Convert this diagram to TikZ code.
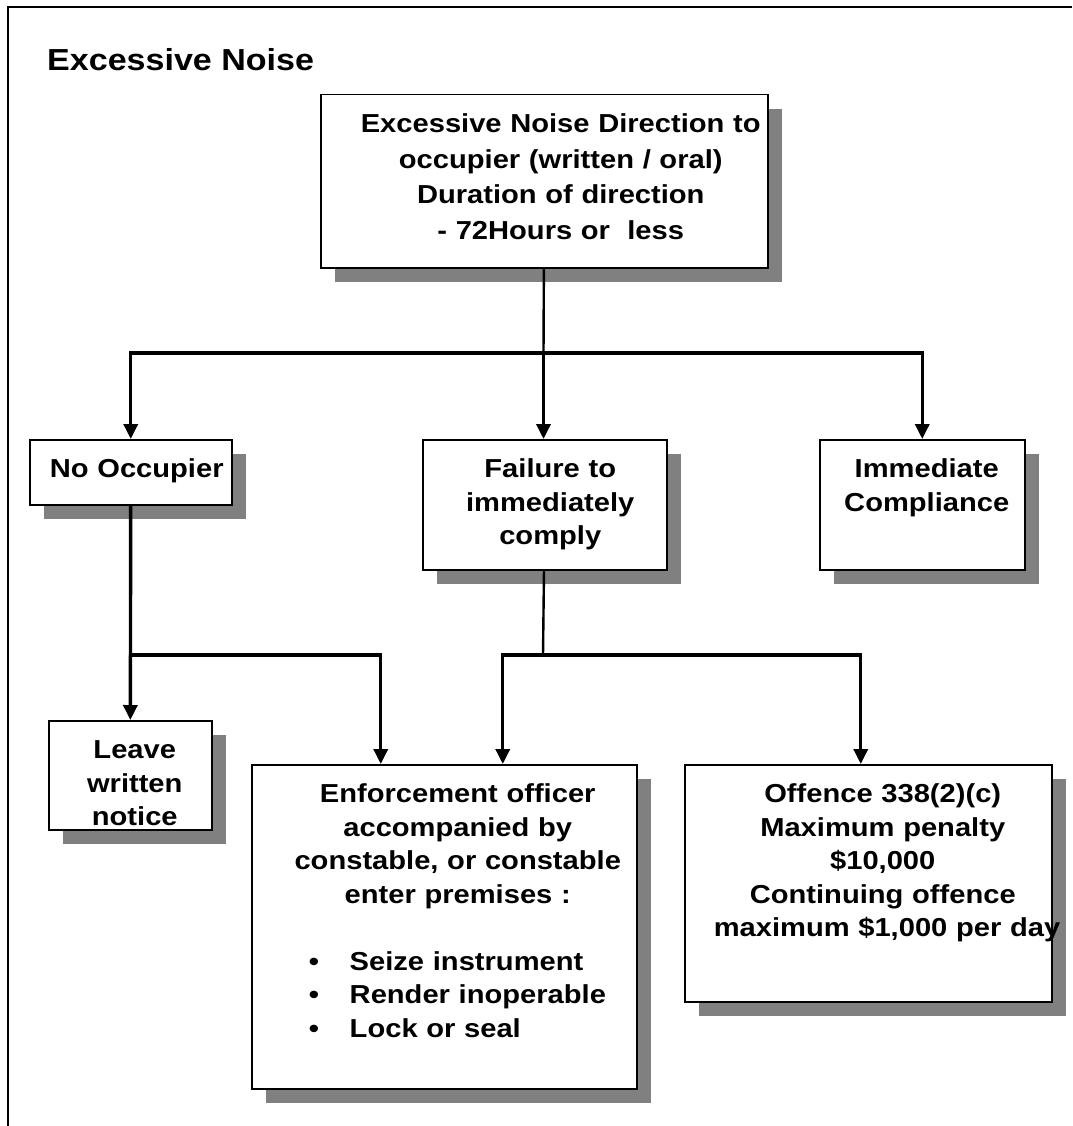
\documentclass[tikz,border=0pt]{standalone}
\usepackage{fontspec}
\setmainfont{Liberation Sans}[FakeStretch=1.12]
\definecolor{ShadowGray}{HTML}{808080}
\usetikzlibrary{arrows.meta,shadows}

\newcommand{\chartfont}{\fontsize{26}{33.5}\selectfont\bfseries}
\newcommand{\boxtext}[2]{\leftskip=#1 plus 1fil\rightskip=0pt plus 1fil\parfillskip=0pt\relax #2\par}

\begin{document}
\begin{tikzpicture}[x=1pt,y=-1pt,
    box/.style={draw,line width=1.5pt,fill=white,anchor=north west,inner sep=0pt,
      align=center,text height=38pt,font=\chartfont,
      drop shadow={shadow xshift=14pt,shadow yshift=-14pt,opacity=1,fill=ShadowGray}},
    stem/.style={line width=2.4pt},
    arr/.style={line width=3.4pt,-{Triangle[width=14pt,length=15pt]}}]
  \useasboundingbox (0,0) rectangle (1072,1126);
  \draw[line width=2pt] (1072,7.5) -| (7.5,1126);
  \node[anchor=base west,inner sep=0pt,font=\fontsize{30.4}{36}\selectfont\bfseries] (title) at (47,71) {Excessive Noise};

  \node[box,text width=447pt,text depth=135pt,font=\fontsize{26}{35.5}\selectfont\bfseries] (dir) at (320,94)
    {\boxtext{33pt}{Excessive Noise Direction to\\occupier (written / oral)\\Duration of direction\\- 72Hours or\ \ less}};
  \node[box,text width=202pt,text depth=27pt] (noocc) at (29,439) {\boxtext{12pt}{No Occupier}};
  \node[box,text width=244pt,text depth=92pt] (fail) at (422,439) {\boxtext{11pt}{Failure to\\immediately\\comply}};
  \node[box,text width=205pt,text depth=92pt] (imm) at (819,439) {\boxtext{9pt}{Immediate\\Compliance}};
  \node[box,text width=163pt,text depth=71pt] (leave) at (48,720) {\boxtext{9pt}{Leave\\written\\notice}};
  \node[box,text width=385pt,text depth=286pt] (enf) at (251,764)
    {\boxtext{27pt}{Enforcement officer\\accompanied by\\constable, or constable\\enter premises :\\[33.5pt]
     \makebox[298pt][l]{\makebox[41pt][l]{\textbullet}Seize instrument}\\
     \makebox[298pt][l]{\makebox[41pt][l]{\textbullet}Render inoperable}\\
     \makebox[298pt][l]{\makebox[41pt][l]{\textbullet}Lock or seal}}};
  \node[box,text width=367pt,text depth=199pt] (off) at (684,764)
    {\boxtext{29pt}{Offence 338(2)(c)\\Maximum penalty\\\$10,000\\Continuing offence\\\mbox{maximum \$1,000 per day}}};

  \coordinate (j1) at (543.5,353);
  \coordinate (j2) at (130,655);
  \coordinate (j3) at (543,655);
  \draw[stem] (dir) -- (j1);
  \draw[arr] (j1) -| (noocc);
  \draw[arr] (j1) -- (j1 |- fail.north);
  \draw[arr] (j1) -| (imm);
  \draw[arr] (noocc) -- (leave);
  \draw[arr] (j2) -| ([xshift=-63.5pt]enf.north);
  \draw[stem] (fail) -- (j3);
  \draw[arr] (j3) -| ([xshift=58.5pt]enf.north);
  \draw[arr] (j3) -| ([xshift=-7.5pt]off.north);
\end{tikzpicture}
\end{document}
